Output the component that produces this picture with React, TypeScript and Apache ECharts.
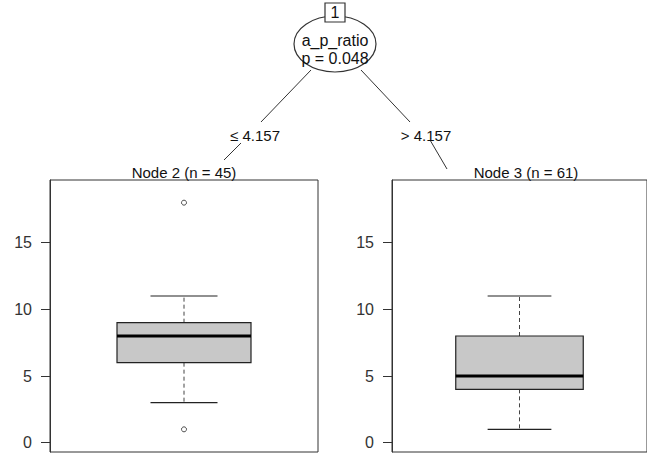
import React, { useEffect, useRef } from "react";
import * as echarts from "echarts";

// ---- data ----
const nodeTitles = ["Node 2 (n = 45)", "Node 3 (n = 61)"];
// [lower whisker, Q1, median, Q3, upper whisker]
const boxStats = [
  [3, 6, 8, 9, 11],
  [1, 4, 5, 8, 11],
];
const outlierValues = [[18, 1], []];
const yTicks = [0, 5, 10, 15];
const yMin = -0.7;
const yMax = 19.7;
const rootId = "1";
const splitVariable = "a_p_ratio";
const pLabel = "p = 0.048";
const edgeLabels = ["\u2264 4.157", "> 4.157"];

const FONT = '"Liberation Sans", Arial, sans-serif';

export default function App() {
  const ref = useRef<HTMLDivElement>(null);

  useEffect(() => {
    if (!ref.current) return;
    const chart = echarts.init(ref.current, undefined, { renderer: "svg" });

    const gridLefts = [50, 392];
    const grids = gridLefts.map((left) => ({
      left,
      top: 180,
      width: 268,
      height: 272,
      show: true,
      borderColor: "#333",
      borderWidth: 1,
      backgroundColor: "transparent",
    }));

    const xAxes = gridLefts.map((_, i) => ({
      type: "value",
      gridIndex: i,
      min: 0,
      max: 1,
      show: false,
    }));

    const yAxes = gridLefts.map((_, i) => ({
      type: "value",
      gridIndex: i,
      min: yMin,
      max: yMax,
      axisLine: { show: true, lineStyle: { color: "#333", width: 1 } },
      axisTick: {
        show: true,
        length: 9,
        customValues: yTicks,
        lineStyle: { color: "#333", width: 1 },
      },
      axisLabel: {
        customValues: yTicks,
        margin: 18,
        fontSize: 16,
        fontFamily: FONT,
        color: "#333",
      },
      splitLine: { show: false },
    }));

    const renderBox = (params: any, api: any) => {
      const lo = api.value(1);
      const q1 = api.value(2);
      const med = api.value(3);
      const q3 = api.value(4);
      const hi = api.value(5);
      const tl = api.coord([0.25, q3]);
      const br = api.coord([0.75, q1]);
      const mL = api.coord([0.25, med]);
      const mR = api.coord([0.75, med]);
      const cTop = api.coord([0.5, q3]);
      const cHi = api.coord([0.5, hi]);
      const cBot = api.coord([0.5, q1]);
      const cLo = api.coord([0.5, lo]);
      const hiL = api.coord([0.375, hi]);
      const hiR = api.coord([0.625, hi]);
      const loL = api.coord([0.375, lo]);
      const loR = api.coord([0.625, lo]);
      const stroke = "#222";
      return {
        type: "group",
        children: [
          {
            type: "line",
            shape: { x1: cTop[0], y1: cTop[1], x2: cHi[0], y2: cHi[1] },
            style: { stroke: "#444", lineWidth: 1, lineDash: [4, 3] },
          },
          {
            type: "line",
            shape: { x1: cBot[0], y1: cBot[1], x2: cLo[0], y2: cLo[1] },
            style: { stroke: "#444", lineWidth: 1, lineDash: [4, 3] },
          },
          {
            type: "line",
            shape: { x1: hiL[0], y1: hiL[1], x2: hiR[0], y2: hiR[1] },
            style: { stroke, lineWidth: 1.2 },
          },
          {
            type: "line",
            shape: { x1: loL[0], y1: loL[1], x2: loR[0], y2: loR[1] },
            style: { stroke, lineWidth: 1.2 },
          },
          {
            type: "rect",
            shape: {
              x: tl[0],
              y: tl[1],
              width: br[0] - tl[0],
              height: br[1] - tl[1],
            },
            style: { fill: "#c8c8c8", stroke, lineWidth: 1.2 },
          },
          {
            type: "line",
            shape: { x1: mL[0], y1: mL[1], x2: mR[0], y2: mR[1] },
            style: { stroke: "#000", lineWidth: 3 },
          },
        ],
      };
    };

    const series: any[] = [];
    boxStats.forEach((stats, i) => {
      series.push({
        type: "custom",
        xAxisIndex: i,
        yAxisIndex: i,
        renderItem: renderBox,
        encode: { x: 0, y: [1, 2, 3, 4, 5] },
        data: [[0.5, ...stats]],
        silent: true,
      });
      series.push({
        type: "scatter",
        xAxisIndex: i,
        yAxisIndex: i,
        symbol: "circle",
        symbolSize: 5,
        itemStyle: { color: "#fff", borderColor: "#222", borderWidth: 1 },
        data: outlierValues[i].map((v) => [0.5, v]),
        silent: true,
      });
    });

    const txt = (text: string, x: number, y: number, size = 15) => ({
      type: "text",
      x,
      y,
      style: {
        text,
        fill: "#111",
        font: `${size}px ${FONT}`,
        align: "center",
        verticalAlign: "middle",
        textAlign: "center",
        textVerticalAlign: "middle",
      },
      silent: true,
    });
    const ln = (x1: number, y1: number, x2: number, y2: number) => ({
      type: "line",
      shape: { x1, y1, x2, y2 },
      style: { stroke: "#333", lineWidth: 1 },
      silent: true,
    });

    const graphic: any[] = [
      ln(311, 70, 261, 122),
      ln(241, 143, 224, 160),
      ln(361, 70, 410, 122),
      ln(430, 140, 447, 169),
      {
        type: "ellipse",
        shape: { cx: 335, cy: 44, rx: 41, ry: 28 },
        style: { fill: "#fff", stroke: "#333", lineWidth: 1.2 },
        silent: true,
      },
      {
        type: "rect",
        shape: { x: 325, y: 3, width: 20, height: 19 },
        style: { fill: "#fff", stroke: "#333", lineWidth: 1.2 },
        silent: true,
      },
      txt(rootId, 335, 12.5, 16),
      txt(splitVariable, 335, 40, 16),
      txt(pLabel, 335, 58, 16),
      txt(edgeLabels[0], 255, 135),
      txt(edgeLabels[1], 426, 135),
      txt(nodeTitles[0], 184, 172),
      txt(nodeTitles[1], 526, 172),
    ];

    chart.setOption({
      animation: false,
      backgroundColor: "#fff",
      grid: grids,
      xAxis: xAxes,
      yAxis: yAxes,
      series,
      graphic,
    } as any);

    return () => chart.dispose();
  }, []);

  return (
    <div
      ref={ref}
      style={{ position: "fixed", left: 0, top: 0, width: 647, height: 453, background: "#fff" }}
    />
  );
}
